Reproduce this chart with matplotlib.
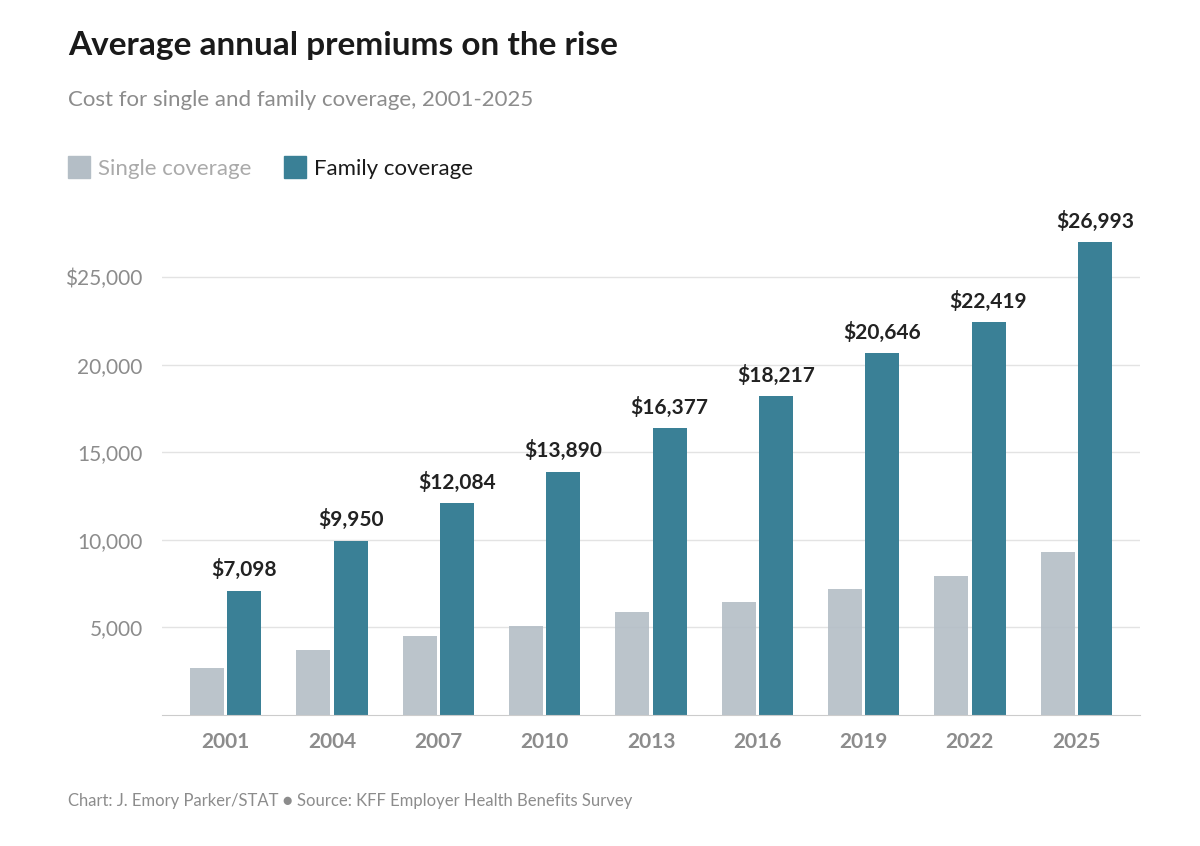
"""Average annual premiums, single vs family coverage, 2001-2025."""
import matplotlib.pyplot as plt
import numpy as np

years = ["2001", "2004", "2007", "2010", "2013", "2016", "2019", "2022", "2025"]
single = [2689, 3695, 4479, 5049, 5884, 6435, 7188, 7911, 9325]
family = [7098, 9950, 12084, 13890, 16377, 18217, 20646, 22419, 26993]

plt.rcParams["font.family"] = ["Lato", "DejaVu Sans"]

fig = plt.figure(figsize=(12, 8.46), dpi=100)
ax = fig.add_axes([0.135, 0.155, 0.815, 0.6])

x = np.arange(len(years))
w = 0.32
ax.bar(x - 0.175, single, w, color="#b4bec6", alpha=0.9, zorder=3)
ax.bar(x + 0.175, family, w, color="#3a8096", zorder=2)
for xi, v in zip(x, family):
    ax.text(xi + 0.175, v + 600, f"${v:,}", ha="center", va="bottom",
            fontsize=15, fontweight="bold", color="#222222")

ax.set_xlim(-0.6, len(years) - 0.4)
ax.set_ylim(0, 29000)
ax.set_yticks([5000, 10000, 15000, 20000, 25000])
ax.set_yticklabels(["5,000", "10,000", "15,000", "20,000", "$25,000"])
ax.set_xticks(x)
ax.set_xticklabels(years, fontsize=15, fontweight="bold", color="#8c8c8c")
ax.tick_params(axis="y", labelsize=15, labelcolor="#8c8c8c", length=0, pad=14)
ax.tick_params(axis="x", length=0, pad=12)
ax.grid(axis="y", color="#e3e3e3", lw=1, zorder=1)
for s in ["top", "right", "left"]:
    ax.spines[s].set_visible(False)
ax.spines["bottom"].set_color("#cccccc")

fig.text(0.057, 0.935, "Average annual premiums on the rise", fontsize=24,
         fontweight="bold", color="#1a1a1a")
fig.text(0.057, 0.875, "Cost for single and family coverage, 2001-2025",
         fontsize=16, color="#8c8c8c")
fig.patches.append(plt.Rectangle((0.057, 0.79), 0.018, 0.026, color="#b4bec6",
                                 transform=fig.transFigure, figure=fig))
fig.text(0.082, 0.793, "Single coverage", fontsize=16, color="#aaaaaa")
fig.patches.append(plt.Rectangle((0.237, 0.79), 0.018, 0.026, color="#3a8096",
                                 transform=fig.transFigure, figure=fig))
fig.text(0.262, 0.793, "Family coverage", fontsize=16, color="#1a1a1a")
fig.text(0.057, 0.047, "Chart: J. Emory Parker/STAT \u25cf Source: KFF Employer Health Benefits Survey",
         fontsize=12, color="#8c8c8c")

fig.savefig("out.png", dpi=100)
